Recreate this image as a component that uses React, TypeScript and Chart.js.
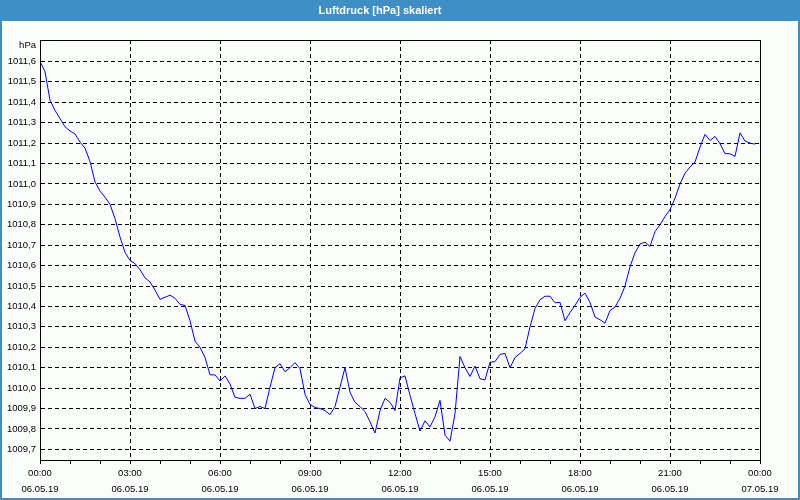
import React, { useEffect, useRef } from 'react';
import { Chart, registerables } from 'chart.js';

Chart.register(...registerables);

const TITLE = 'Luftdruck [hPa] skaliert';
const UNIT = 'hPa';
const SAMPLE_MINUTES = 10;

// Air pressure every 10 minutes, 06.05.19 00:00 – 23:50
const pressure = [
  1011.60, 1011.55, 1011.41, 1011.36, 1011.32, 1011.28, 1011.26, 1011.245, 1011.205, 1011.175, 1011.11, 1011.01,
  1010.965, 1010.935, 1010.90, 1010.83, 1010.74, 1010.665, 1010.625, 1010.61, 1010.58, 1010.54, 1010.52, 1010.48,
  1010.435, 1010.445, 1010.455, 1010.44, 1010.41, 1010.405, 1010.33, 1010.23, 1010.20, 1010.15, 1010.065, 1010.065,
  1010.035, 1010.06, 1010.02, 1009.955, 1009.95, 1009.95, 1009.97, 1009.90, 1009.91, 1009.90, 1010.005, 1010.10,
  1010.12, 1010.08, 1010.10, 1010.125, 1010.095, 1009.97, 1009.92, 1009.905, 1009.90, 1009.89, 1009.87, 1009.91,
  1010.005, 1010.10, 1009.98, 1009.93, 1009.91, 1009.885, 1009.835, 1009.78, 1009.89, 1009.95, 1009.93, 1009.89,
  1010.05, 1010.06, 1009.965, 1009.875, 1009.79, 1009.84, 1009.81, 1009.86, 1009.94, 1009.77, 1009.74, 1009.875,
  1010.155, 1010.10, 1010.057, 1010.108, 1010.046, 1010.04, 1010.127, 1010.13, 1010.165, 1010.17, 1010.10, 1010.15,
  1010.17, 1010.193, 1010.30, 1010.39, 1010.433, 1010.45, 1010.45, 1010.418, 1010.42, 1010.33, 1010.37, 1010.405,
  1010.445, 1010.465, 1010.42, 1010.348, 1010.335, 1010.318, 1010.38, 1010.397, 1010.44, 1010.50, 1010.595, 1010.663,
  1010.706, 1010.715, 1010.694, 1010.767, 1010.80, 1010.84, 1010.874, 1010.93, 1011.00, 1011.053, 1011.083, 1011.107,
  1011.18, 1011.243, 1011.213, 1011.233, 1011.197, 1011.148, 1011.148, 1011.135, 1011.25, 1011.21, 1011.20, 1011.195,
];

const majorTimes = ['00:00', '03:00', '06:00', '09:00', '12:00', '15:00', '18:00', '21:00', '00:00'];
const majorDates = ['06.05.19', '06.05.19', '06.05.19', '06.05.19', '06.05.19', '06.05.19', '06.05.19', '06.05.19', '07.05.19'];
const MAJOR_STEP = 180;
const MINOR_STEP = 60;
const X_MAX = 1440;
const Y_MIN = 1009.648;
const Y_MAX = 1011.705;
const Y_STEP = 0.1;
const Y_LAST_TICK = 1011.6;

const FONT = '"Liberation Sans", Arial, sans-serif';
const BLUE = '#3d8fc6';
const BG = '#fbfdfb';

export default function App() {
  const canvasRef = useRef<HTMLCanvasElement | null>(null);

  useEffect(() => {
    document.body.style.margin = '0';
    const canvas = canvasRef.current;
    if (!canvas) return;

    const framePlugin = {
      id: 'frame',
      beforeDraw(chart: any) {
        const { ctx, width, height } = chart;
        ctx.save();
        ctx.fillStyle = BG;
        ctx.fillRect(0, 0, width, height);
        ctx.fillStyle = BLUE;
        ctx.fillRect(0, 0, width, 21);
        ctx.strokeStyle = BLUE;
        ctx.lineWidth = 2;
        ctx.strokeRect(1, 1, width - 2, height - 2);
        ctx.restore();
      },
      afterDraw(chart: any) {
        const { ctx, chartArea } = chart;
        ctx.save();
        ctx.strokeStyle = '#000';
        ctx.lineWidth = 1;
        ctx.strokeRect(
          Math.round(chartArea.left) + 0.5,
          Math.round(chartArea.top) + 0.5,
          Math.round(chartArea.right - chartArea.left),
          Math.round(chartArea.bottom - chartArea.top)
        );
        ctx.fillStyle = '#000';
        ctx.font = `9.5px ${FONT}`;
        ctx.textAlign = 'right';
        ctx.textBaseline = 'middle';
        ctx.fillText(UNIT, chartArea.left - 4, chartArea.top + 5);
        ctx.restore();
      },
    };

    const chart = new Chart(canvas, {
      type: 'line',
      data: {
        datasets: [
          {
            label: TITLE,
            data: pressure.map((v, i) => ({ x: i * SAMPLE_MINUTES, y: v })),
            borderColor: '#0000ff',
            borderWidth: 1,
            pointRadius: 0,
            tension: 0,
            fill: false,
          },
        ],
      },
      options: {
        responsive: false,
        animation: false,
        events: [],
        layout: { padding: { left: 0, right: 40, top: 0, bottom: 0 } },
        plugins: {
          legend: { display: false },
          tooltip: { enabled: false },
          title: {
            display: true,
            text: TITLE,
            color: '#ffffff',
            font: { family: FONT, size: 11, weight: 'bold', lineHeight: 1.2 },
            padding: { top: 4, bottom: 22.8 },
          },
        },
        scales: {
          x: {
            type: 'linear',
            min: 0,
            max: X_MAX,
            afterFit(scale: any) {
              scale.height = 40;
            },
            ticks: {
              stepSize: MINOR_STEP,
              autoSkip: false,
              maxRotation: 0,
              minRotation: 0,
              padding: 1,
              color: '#000',
              font: { family: FONT, size: 9.5, lineHeight: 16 / 9.5 },
              callback: (value: any) => {
                const v = Number(value);
                if (v % MAJOR_STEP !== 0) return '';
                const k = v / MAJOR_STEP;
                return [majorTimes[k], majorDates[k]];
              },
            },
            grid: {
              color: (ctx: any) =>
                ctx.tick && ctx.tick.value % MAJOR_STEP === 0 ? '#000' : 'rgba(0,0,0,0)',
              tickColor: '#000',
              tickLength: 4,
              lineWidth: 1,
              drawTicks: true,
            },
            border: { display: true, color: '#000', width: 1, dash: [4, 3] },
          },
          y: {
            type: 'linear',
            min: Y_MIN,
            max: Y_MAX,
            afterFit(scale: any) {
              scale.width = 40;
            },
            afterBuildTicks(scale: any) {
              scale.ticks = scale.ticks.filter((t: any) => t.value <= Y_LAST_TICK + 0.01);
            },
            ticks: {
              stepSize: Y_STEP,
              includeBounds: false,
              autoSkip: false,
              padding: 4,
              color: '#000',
              font: { family: FONT, size: 9.5 },
              callback: (value: any) => Number(value).toFixed(1).replace('.', ','),
            },
            grid: {
              color: '#000',
              lineWidth: 1,
              drawTicks: false,
            },
            border: { display: true, color: '#000', width: 1, dash: [4, 3] },
          },
        },
      },
      plugins: [framePlugin],
    } as any);

    return () => chart.destroy();
  }, []);

  return (
    <div style={{ width: 800, height: 500 }}>
      <canvas ref={canvasRef} width={800} height={500} />
    </div>
  );
}
